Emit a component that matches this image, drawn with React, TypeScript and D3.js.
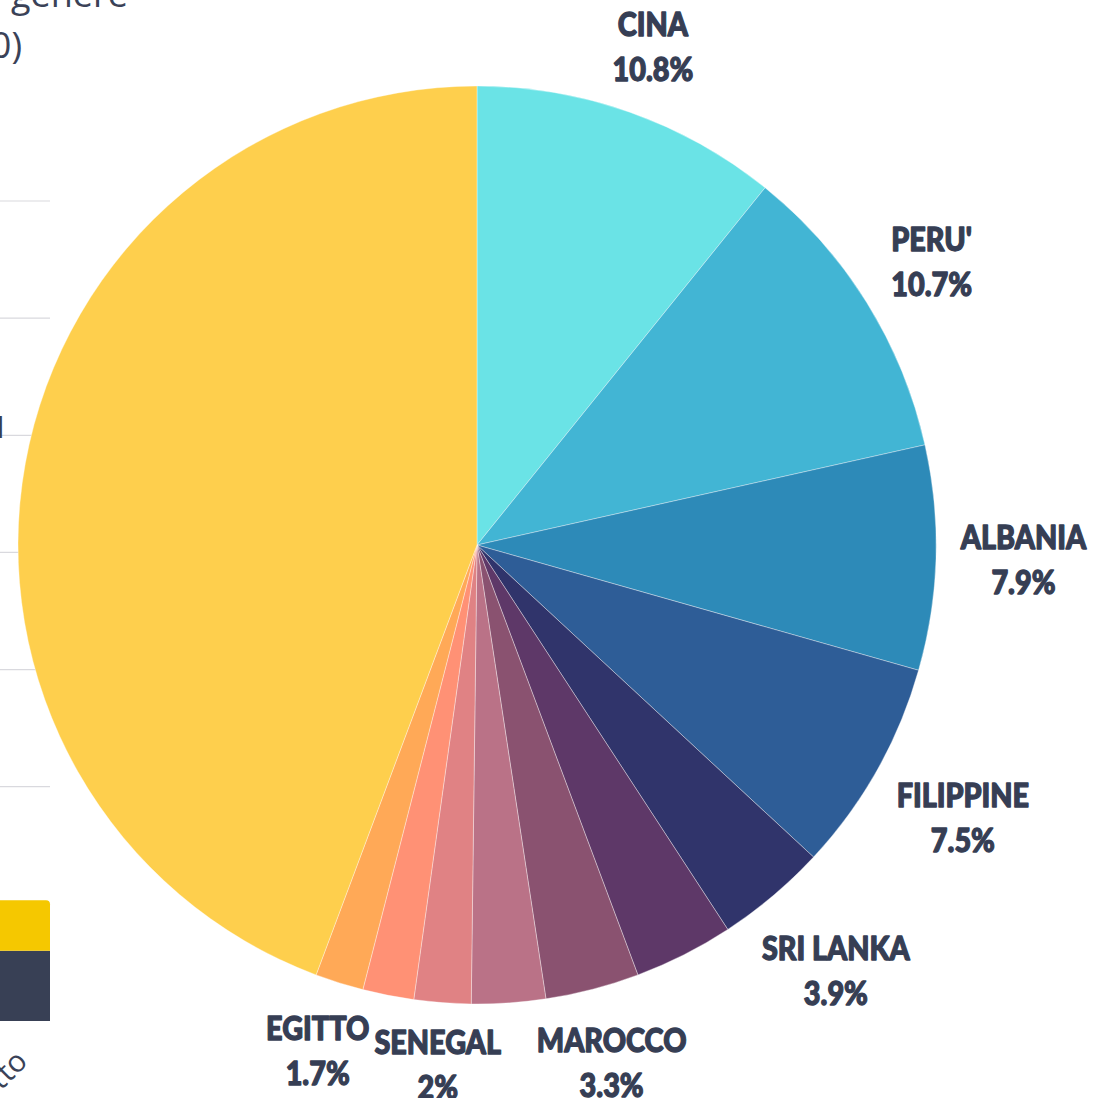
import React, { useEffect, useRef } from "react";
import * as d3 from "d3";

// ---- Pie data (percent shares, clockwise from 12 o'clock) ----
const countries = ["CINA", "PERU'", "ALBANIA", "FILIPPINE", "SRI LANKA", "ALTRO 1", "MAROCCO", "ALTRO 2", "SENEGAL", "ALTRO 3", "EGITTO", "ALTRI PAESI"];
const shares = [10.8, 10.7, 7.9, 7.5, 3.9, 3.5, 3.3, 2.6, 2.0, 1.8, 1.7, 44.3];
const showLabel = [true, true, true, true, true, false, true, false, true, false, true, false];
const sliceColors = ["#6ae3e6", "#42b5d4", "#2d8ab8", "#2e5d97", "#30346b", "#5e3868", "#8a5270", "#ba7287", "#e08284", "#ff9175", "#ffa957", "#fecf4d"];

// ---- Partially visible neighbouring bar chart (cut off on the left) ----
const barTicks = [0, 1000, 2000, 3000, 4000, 5000, 6000, 7000];
const barSegments = [600, 430];
const barSegmentColors = ["#384055", "#f5c800"];
const barCategory = "Egitto";
const titleLines = ["per genere", "(2020)"];

const W = 1093;
const H = 1098;

export default function App() {
  const ref = useRef<SVGSVGElement>(null);

  useEffect(() => {
    const svg = d3.select(ref.current);
    svg.selectAll("*").remove();

    // ---- left partial chart ----
    const y = d3.scaleLinear().domain([0, 7000]).range([1021, 201]);
    const left = svg.append("g");
    left.selectAll("line.grid")
      .data(barTicks.slice(1))
      .join("line")
      .attr("x1", -10).attr("x2", 50)
      .attr("y1", (d) => y(d)).attr("y2", (d) => y(d))
      .attr("stroke", "#d9d9de").attr("stroke-width", 1.2);

    let acc = 0;
    const segs = barSegments.map((v, i) => {
      const s = { y0: acc, y1: acc + v, c: barSegmentColors[i] };
      acc += v;
      return s;
    });
    left.selectAll("path.seg")
      .data(segs)
      .join("path")
      .attr("d", (d, i) => {
        const top = y(d.y1), bot = y(d.y0);
        if (i === segs.length - 1) {
          const r = 4;
          return `M-20,${bot}V${top}H${50 - r}Q50,${top} 50,${top + r}V${bot}Z`;
        }
        return `M-20,${bot}V${top}H50V${bot}Z`;
      })
      .attr("fill", (d) => d.c);

    left.append("text")
      .attr("transform", `translate(29,1063) rotate(-45)`)
      .attr("text-anchor", "end")
      .attr("font-family", "'Open Sans', sans-serif")
      .attr("font-size", 30)
      .attr("fill", "#3a4257")
      .text(barCategory);

    left.append("text")
      .attr("x", 4).attr("y", 438)
      .attr("text-anchor", "end")
      .attr("font-family", "Lato, sans-serif")
      .attr("font-weight", 900)
      .attr("font-size", 30)
      .attr("fill", "#363e54")
      .text("I");

    const title = left.append("text")
      .attr("text-anchor", "end")
      .attr("font-family", "'Open Sans', sans-serif")
      .attr("font-size", 36)
      .attr("fill", "#3a4257");
    title.append("tspan").attr("x", 128).attr("y", 7).text(titleLines[0]);
    title.append("tspan").attr("x", 22).attr("y", 58).text(titleLines[1]);

    // ---- pie ----
    const cx = 477, cy = 545, R = 459;
    const data = countries.map((c, i) => ({ name: c, value: shares[i], color: sliceColors[i], show: showLabel[i] }));
    const pie = d3.pie<any>().sort(null).value((d) => d.value);
    const arcs = pie(data);
    const arc = d3.arc<any>().innerRadius(0).outerRadius(R);

    const g = svg.append("g").attr("transform", `translate(${cx},${cy})`);
    g.selectAll("path")
      .data(arcs)
      .join("path")
      .attr("d", arc as any)
      .attr("fill", (d: any) => d.data.color)
      .attr("stroke", "rgba(255,255,255,0.45)")
      .attr("stroke-width", 0.8);

    // ---- labels ----
    const gap = 483;
    const blockH = 68;
    const sx = 0.9;
    const fmt = (v: number) => `${+v.toFixed(1)}%`;
    arcs.filter((a: any) => a.data.show).forEach((a: any) => {
      const ang = (a.startAngle + a.endAngle) / 2;
      const lg = g.append("g");
      const t = lg.append("text")
        .attr("text-anchor", "middle")
        .attr("font-family", "Lato, 'DejaVu Sans', sans-serif")
        .attr("font-weight", 900)
        .attr("font-size", 32)
        .attr("fill", "#363e54")
        .attr("stroke", "#363e54")
        .attr("stroke-width", 1.3)
        .attr("stroke-linejoin", "round");
      const t1 = t.append("tspan").attr("x", 0).attr("y", -11).text(a.data.name);
      const t2 = t.append("tspan").attr("x", 0).attr("y", 34).text(fmt(a.data.value));
      const w = sx * Math.max((t1.node() as any).getComputedTextLength(), (t2.node() as any).getComputedTextLength());
      const dist = gap + Math.abs(Math.sin(ang)) * w / 2 + Math.abs(Math.cos(ang)) * blockH / 2;
      const x = dist * Math.sin(ang);
      const yc = -dist * Math.cos(ang);
      lg.attr("transform", `translate(${x},${yc}) scale(${sx},1)`);
    });
  }, []);

  return (
    <svg
      ref={ref}
      width={W}
      height={H}
      style={{ position: "absolute", left: 0, top: 0, display: "block", background: "#fff" }}
    />
  );
}
